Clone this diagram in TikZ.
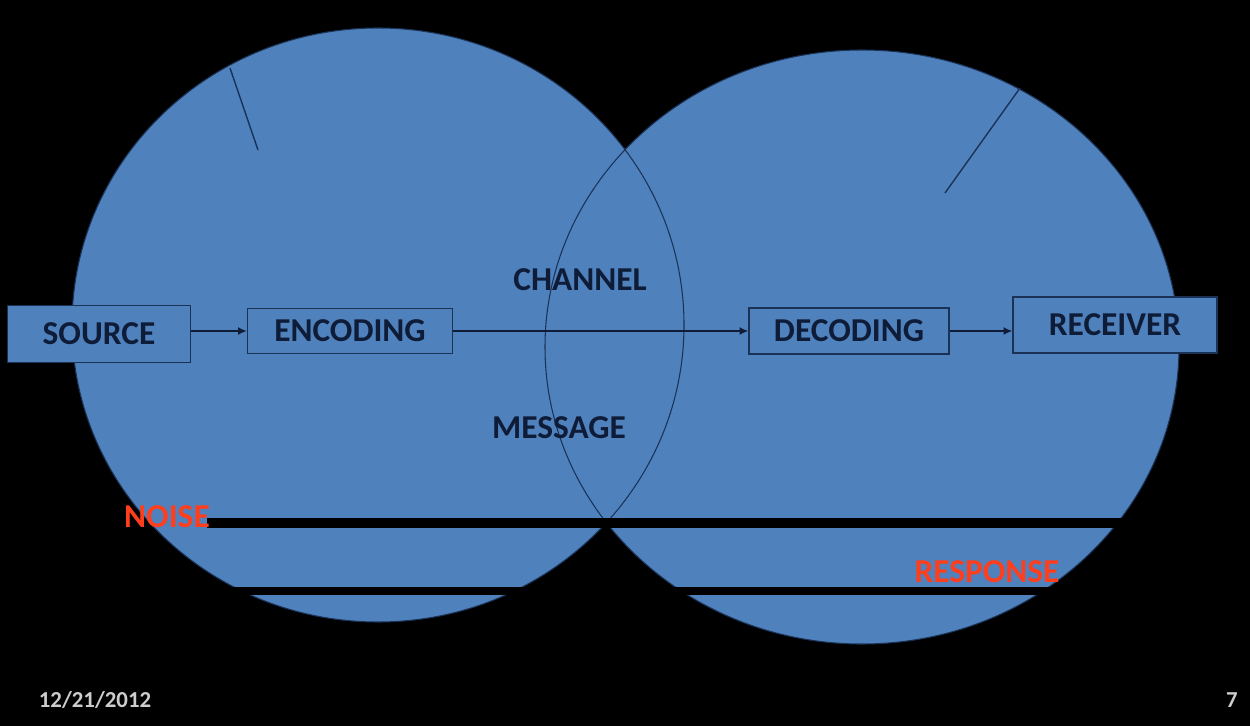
\documentclass[tikz,border=0pt]{standalone}
\usepackage{fontspec}
\setmainfont{Carlito}
\usetikzlibrary{arrows.meta}

\definecolor{slideblue}{RGB}{79,129,189}
\definecolor{inkblue}{RGB}{14,28,56}
\definecolor{rimblue}{RGB}{26,50,86}
\definecolor{noisered}{RGB}{255,62,30}
\definecolor{footgray}{RGB}{205,205,205}

\begin{document}
\begin{tikzpicture}[x=0.02cm, y=-0.02cm,
		stage/.style={draw=rimblue, line width=0.8pt, fill=slideblue, text=inkblue,
			font=\fontsize{19}{22}\selectfont\bfseries, inner sep=0pt},
		flow/.style={draw=inkblue, line width=0.8pt, -{Latex[length=5pt,width=4.5pt]}},
		word/.style={text=inkblue, font=\fontsize{19}{22}\selectfont\bfseries},
		alert/.style={text=noisered, font=\fontsize{19}{22}\selectfont\bfseries},
		foot/.style={text=footgray, font=\fontsize{13}{15}\selectfont\bfseries}]
	
	\coordinate (L) at (378,325);
	\coordinate (R) at (862,347);
	\coordinate (noise_a) at (207,523);
	\coordinate (noise_b) at (1140,523);
	\coordinate (resp_a) at (200,591);
	\coordinate (resp_b) at (1080,591);
	
	% Background
	\fill[black] (0,0) rectangle (1250,726);
	\useasboundingbox (0,0) rectangle (1250,726);
	
	% Main structure
	\fill[slideblue] (L) ellipse [x radius=306, y radius=297];
	\fill[slideblue] (R) ellipse [x radius=317, y radius=297];
	\draw[rimblue, line width=0.6pt] (L) ellipse [x radius=306, y radius=297];
	\draw[rimblue, line width=0.6pt] (R) ellipse [x radius=317, y radius=297];
	
	% Small strokes
	\draw[rimblue, line width=0.8pt] (230,68) -- (258,150);
	\draw[rimblue, line width=0.8pt] (1020,88) -- (945,193);
	
	% Black bars
	\draw[black, line width=5.6pt] (noise_a) -- (noise_b);
	\draw[black, line width=4.5pt] (resp_a) -- (resp_b);
	
	% Boxes
	\node[stage, minimum width=3.66cm, minimum height=1.14cm] (src) at (99,334) {SOURCE};
	\node[stage, minimum width=4.1cm, minimum height=0.9cm] (enc) at (350,331) {ENCODING};
	\node[stage, minimum width=4cm, minimum height=0.92cm] (dec) at (849,331) {DECODING};
	\node[stage, minimum width=4.08cm, minimum height=1.12cm] (rec) at (1115,325) {RECEIVER};
	
	% Arrows
	\draw[flow] (src.east |- enc.west) -- (enc.west);
	\draw[flow] (enc.east) -- (dec.west);
	\draw[flow] (dec.east) -- (dec.east -| rec.west);
	
	% Labels
	\node[word] (chan) at (580,280) {CHANNEL};
	\node[word] (msg) at (559,428) {MESSAGE};
	\node[alert] (noise) at (167,517) {NOISE};
	\node[alert] (resp) at (987,572) {RESPONSE};
	
	\node[foot] (date) at (95,700) {12/21/2012};
	\node[foot] (page) at (1232,700) {7};
	
\end{tikzpicture}
\end{document}
